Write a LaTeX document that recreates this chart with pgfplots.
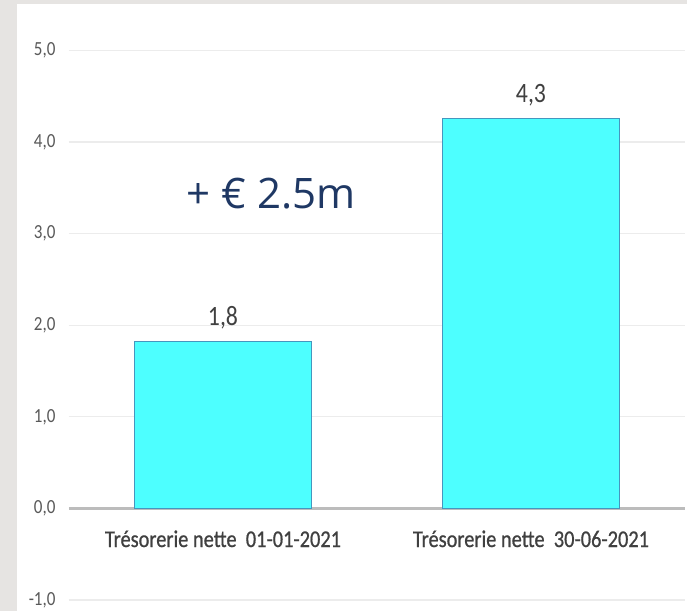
\documentclass[border=0pt]{standalone}
\usepackage{fontspec}
\setmainfont[FakeStretch=0.85]{Carlito}
\newfontfamily\semib[FakeStretch=0.85, FakeBold=0.7]{Carlito}
\newfontfamily\opensans{Open Sans}
\usepackage{pgfplots}
\usetikzlibrary{backgrounds}
\pgfplotsset{compat=1.18}
\definecolor{panelgray}{RGB}{230,228,226}
\definecolor{gridgray}{RGB}{236,236,236}
\definecolor{zerogray}{RGB}{188,188,188}
\definecolor{barcyan}{RGB}{77,255,255}
\definecolor{baredge}{RGB}{70,150,190}
\definecolor{navy}{RGB}{31,56,100}
\definecolor{ticktext}{RGB}{89,89,89}
\definecolor{labeltext}{RGB}{64,64,64}
\begin{document}
\begin{tikzpicture}
\begin{axis}[
  at={(0,0)}, anchor=south west, scale only axis,
  width=616pt, height=549.5pt,
  xmin=-0.5, xmax=1.5, ymin=-1, ymax=5,
  axis line style={draw=none},
  ytick={-1,0,...,5},
  ymajorgrids, grid style={gridgray, line width=1.2pt},
  major tick length=0pt,
  extra y ticks={0}, extra y tick labels={},
  extra y tick style={grid style={zerogray, line width=2.2pt}},
  xtick={0,1},
  xticklabels={Trésorerie nette\ \ 01-01-2021, Trésorerie nette\ \ 30-06-2021},
  x tick label style={anchor=base, yshift=53pt, font=\semib\fontsize{24}{28}\selectfont, text=labeltext},
  y tick label style={font=\fontsize{20}{24}\selectfont, text=ticktext, xshift=-10pt},
  /pgf/number format/assume math mode=true,
  /pgf/number format/fixed,
  /pgf/number format/fixed zerofill,
  /pgf/number format/precision=1,
  /pgf/number format/use comma,
]
\addplot[ybar, bar width=177pt, fill=barcyan, draw=baredge, line width=1pt,
  nodes near coords,
  every node near coord/.append style={anchor=base, yshift=16pt, font=\fontsize{28}{32}\selectfont, text=labeltext}]
  coordinates {(0,1.82) (1,4.26)};
\node[font=\opensans\fontsize{42}{48}\selectfont, text=navy, anchor=base] at (axis cs:0.156,3.27) {+ € 2.5m};
\end{axis}
\pgfresetboundingbox
\useasboundingbox (-69pt,-11pt) rectangle (618pt,600pt);
\begin{scope}[on background layer]
\fill[panelgray] (current bounding box.south west) rectangle (current bounding box.north east);
\fill[white] ([xshift=17pt]current bounding box.south west) rectangle ([yshift=-4pt]current bounding box.north east);
\end{scope}
\end{tikzpicture}
\end{document}
